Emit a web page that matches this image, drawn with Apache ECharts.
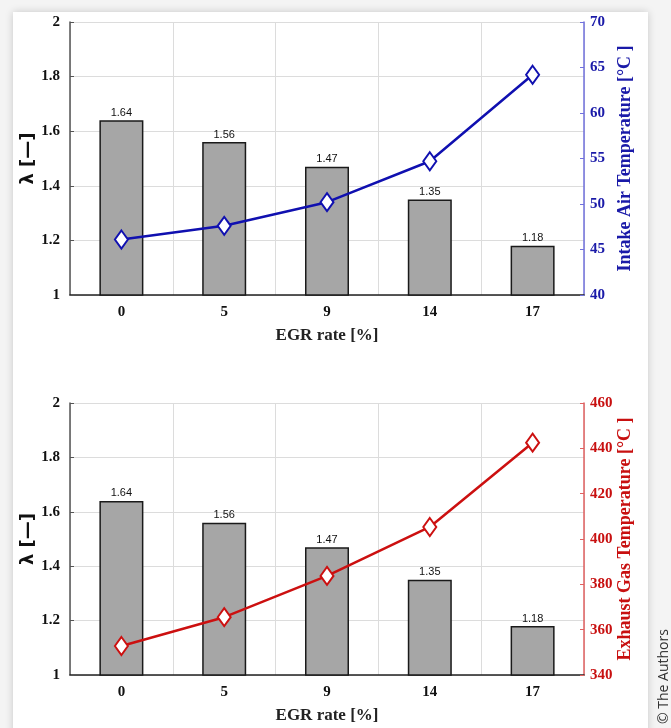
<!DOCTYPE html>
<html><head><meta charset="utf-8">
<script src="https://cdn.jsdelivr.net/npm/echarts@6/dist/echarts.min.js"></script>
<style>
html,body{margin:0;padding:0;background:#f4f4f4;width:671px;height:728px;overflow:hidden;}
#card{position:absolute;left:13px;top:12px;width:635px;height:730px;background:#fff;box-shadow:0 0 8px rgba(0,0,0,0.18);}
#chart{position:absolute;left:0;top:0;width:671px;height:728px;}
#copy{position:absolute;left:653px;top:724px;transform:rotate(-90deg);transform-origin:0 0;font-family:"Open Sans";font-size:14px;color:#333;white-space:nowrap;}
</style></head>
<body>
<div id="card"></div>
<div id="chart"></div>
<div id="copy">© The Authors</div>
<script>
const categories = ['0','5','9','14','17'];
const lambdaValues = [1.64, 1.56, 1.47, 1.35, 1.18];
const intakeTemp = [46.1, 47.6, 50.2, 54.7, 64.2];
const exhaustTemp = [352.8, 365.5, 383.7, 405.3, 442.5];

const chart = echarts.init(document.getElementById('chart'), null, {renderer:'canvas'});
const serif = '"Liberation Serif", "Times New Roman", serif';
const grids = [
  {left:70, right:87, top:22, height:273},
  {left:70, right:87, top:403, height:272}
];
function xAxis(gi){
  return {type:'category', gridIndex:gi, data:categories, boundaryGap:true,
    axisLine:{show:true, lineStyle:{color:'#222', width:1.5}},
    axisTick:{show:false},
    axisLabel:{color:'#111', fontFamily:serif, fontWeight:'bold', fontSize:15, margin:10, interval:0},
    splitLine:{show:true, interval:0, lineStyle:{color:'#dcdcdc', width:1}},
    name:'EGR rate [%]', nameLocation:'middle', nameGap:32, nameMoveOverlap:false,
    nameTextStyle:{color:'#222', fontFamily:serif, fontWeight:'bold', fontSize:17}};
}
function leftAxis(gi){
  return {type:'value', gridIndex:gi, min:1, max:2, interval:0.2, position:'left',
    axisLine:{show:true, lineStyle:{color:'#555', width:1.5}},
    axisTick:{show:true, inside:true, length:4, lineStyle:{color:'#555'}},
    axisLabel:{color:'#111', fontFamily:serif, fontWeight:'bold', fontSize:15, margin:10,
      formatter:v=>String(+v.toFixed(1))},
    splitLine:{show:true, lineStyle:{color:'#dcdcdc', width:1}},
    name:'λ [—]', nameLocation:'middle', nameGap:33, nameRotate:90, nameMoveOverlap:false,
    nameTextStyle:{color:'#111', fontFamily:'"DejaVu Sans", sans-serif', fontWeight:'bold', fontSize:18}};
}
function rightAxis(gi, min, max, interval, color, axisColor, name){
  return {type:'value', gridIndex:gi, min:min, max:max, interval:interval, position:'right',
    axisLine:{show:true, lineStyle:{color:axisColor, width:1.5}},
    axisTick:{show:true, inside:true, length:4, lineStyle:{color:axisColor}},
    axisLabel:{color:color, fontFamily:serif, fontWeight:'bold', fontSize:15, margin:6},
    splitLine:{show:false},
    name:name, nameLocation:'middle', nameGap:32, nameRotate:90, nameMoveOverlap:false,
    nameTextStyle:{color:color, fontFamily:serif, fontWeight:'bold', fontSize:18}};
}
function bars(xi, yi){
  return {type:'bar', xAxisIndex:xi, yAxisIndex:yi, data:lambdaValues, barWidth:44,
    itemStyle:{color:'#a6a6a6', borderColor:'#1a1a1a', borderWidth:1.5},
    label:{show:true, position:'top', distance:2, color:'#111', fontFamily:'"Liberation Sans", Arial, sans-serif', fontSize:11,
      formatter:p=>p.value.toFixed(2)}, z:2};
}
function line(xi, yi, data, color){
  return {type:'line', xAxisIndex:xi, yAxisIndex:yi, data:data,
    symbol:'diamond', symbolSize:[13,18], showSymbol:true,
    lineStyle:{color:color, width:2.5},
    itemStyle:{color:'#fff', borderColor:color, borderWidth:2}, z:5};
}
chart.setOption({
  animation:false,
  backgroundColor:'transparent',
  grid:grids,
  xAxis:[xAxis(0), xAxis(1)],
  yAxis:[leftAxis(0),
         rightAxis(0, 40, 70, 5, '#1a1aa8', '#7070dd', 'Intake Air Temperature [°C ]'),
         leftAxis(1),
         rightAxis(1, 340, 460, 20, '#c81010', '#e06060', 'Exhaust Gas Temperature [°C ]')],
  series:[bars(0,0), line(0,1,intakeTemp,'#1010b0'), bars(1,2), line(1,3,exhaustTemp,'#cc1010')]
});
</script>
</body></html>
